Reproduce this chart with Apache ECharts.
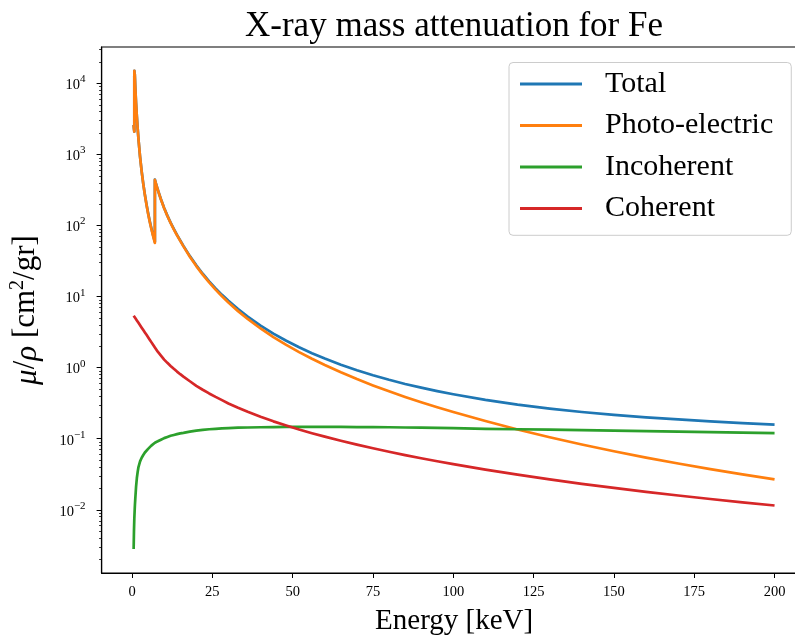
<!DOCTYPE html>
<html>
<head>
<meta charset="utf-8">
<script src="https://cdn.jsdelivr.net/npm/echarts@6/dist/echarts.min.js"></script>
<style>
html,body{margin:0;padding:0;background:#fff;}
#chart{width:795px;height:641px;}
</style>
</head>
<body>
<div id="chart"></div>
<script>
// Energy grid (keV); duplicated energies are absorption edges (L3, L2, L1, K)
const energy = [0.5, 0.6, 0.708, 0.708, 0.721, 0.721, 0.846, 0.846, 0.9, 1,
  1.25, 1.5, 1.75, 2, 2.5, 3, 3.5, 4, 4.5, 5, 5.5, 6, 6.5,
  7.112, 7.112,
  7.5, 8, 8.5, 9,
  10, 11, 12, 13, 14, 15, 16,
  18, 20, 22, 24, 26, 28, 30,
  33, 36, 40, 44, 48, 52, 56, 60,
  65, 70, 75, 80, 85, 90, 95, 100,
  110, 120, 130, 140, 150, 160, 170, 180, 190, 200];
const total = [2605, 2305, 2105, 12505, 12205, 15005, 12005, 13505, 12005, 9105,
  5305, 3435, 2334, 1654, 929, 580, 386.4, 272.2, 199.0, 149.8, 116.2, 92.4, 74.7,
  59.0, 442.0,
  382.9, 321.8, 273.7, 234.6,
  176.4, 137.9, 110.1, 89.6, 74.0, 61.9, 51.8,
  37.17, 27.59, 21.02, 16.42, 13.08, 10.60, 8.72,
  6.67, 5.23, 3.91, 3.02, 2.39, 1.94, 1.60, 1.343,
  1.101, 0.920, 0.782, 0.675, 0.590, 0.523, 0.468, 0.423,
  0.353, 0.302, 0.266, 0.238, 0.217, 0.200, 0.187, 0.176, 0.166, 0.158];
const photo = [2600, 2300, 2100, 12500, 12200, 15000, 12000, 13500, 12000, 9100,
  5300, 3430, 2330, 1650, 925, 576, 383, 269, 196, 147, 113.6, 90, 72.5,
  57, 440,
  381, 320, 272, 233,
  175, 136.6, 108.9, 88.5, 73.0, 61.0, 50.9,
  36.4, 26.9, 20.4, 15.85, 12.55, 10.11, 8.26,
  6.25, 4.85, 3.56, 2.70, 2.09, 1.657, 1.333, 1.089,
  0.860, 0.691, 0.563, 0.4646, 0.3875, 0.3264, 0.2775, 0.2377,
  0.178, 0.1351, 0.1048, 0.0829, 0.0666, 0.0543, 0.0448, 0.0374, 0.0315, 0.0268];
const incoherent = [0.0028, 0.0050, 0.0075, 0.0075, 0.0077, 0.0077, 0.0105, 0.0105, 0.0118, 0.0140,
  0.021, 0.028, 0.034, 0.040, 0.048, 0.054, 0.059, 0.064, 0.068, 0.072, 0.076, 0.080, 0.084,
  0.088, 0.088,
  0.090, 0.092, 0.095, 0.097,
  0.102, 0.106, 0.110, 0.113, 0.116, 0.119, 0.121,
  0.126, 0.130, 0.133, 0.136, 0.138, 0.140, 0.141,
  0.143, 0.144, 0.145, 0.146, 0.147, 0.147, 0.147, 0.147,
  0.147, 0.146, 0.146, 0.145, 0.144, 0.143, 0.142, 0.141,
  0.138, 0.136, 0.134, 0.132, 0.130, 0.128, 0.126, 0.124, 0.122, 0.120];
const coherent = [5.40, 5.33, 5.25, 5.25, 5.24, 5.24, 5.15, 5.15, 5.11, 5.00,
  4.81, 4.62, 4.45, 4.28, 3.96, 3.66, 3.38, 3.13, 2.90, 2.68, 2.48, 2.29, 2.12,
  1.93, 1.93,
  1.82, 1.68, 1.58, 1.48,
  1.30, 1.17, 1.058, 0.963, 0.881, 0.810, 0.748,
  0.644, 0.555, 0.489, 0.434, 0.388, 0.349, 0.314,
  0.2726, 0.2393, 0.2036, 0.1757, 0.1532, 0.1349, 0.1197, 0.107,
  0.0937, 0.0827, 0.0734, 0.0656, 0.0589, 0.0532, 0.0482, 0.0439,
  0.0368, 0.0312, 0.0268, 0.0232, 0.0203, 0.0179, 0.0159, 0.0142, 0.01275, 0.0115];

const seriesNames = ['Total', 'Photo-electric', 'Incoherent', 'Coherent'];
const seriesValues = [total, photo, incoherent, coherent];
const seriesColors = ['#1f77b4', '#ff7f0e', '#2ca02c', '#d62728'];

const xTicks = [0, 25, 50, 75, 100, 125, 150, 175, 200];
const yMajorTicks = [0.01, 0.1, 1, 10, 100, 1000, 10000];
const yMinorTicks = [0.002, 0.003, 0.004, 0.005, 0.006, 0.007, 0.008, 0.009,
  0.02, 0.03, 0.04, 0.05, 0.06, 0.07, 0.08, 0.09,
  0.2, 0.3, 0.4, 0.5, 0.6, 0.7, 0.8, 0.9,
  2, 3, 4, 5, 6, 7, 8, 9,
  20, 30, 40, 50, 60, 70, 80, 90,
  200, 300, 400, 500, 600, 700, 800, 900,
  2000, 3000, 4000, 5000, 6000, 7000, 8000, 9000,
  20000, 30000];

const FONT = 'Liberation Serif';
const xMin = -9.475, xMax = 209.975;
const yMin = 0.00129, yMax = 32580;

const chart = echarts.init(document.getElementById('chart'), null, {renderer: 'canvas'});

const series = seriesNames.map((name, k) => ({
  name: name,
  type: 'line',
  showSymbol: false,
  symbol: 'none',
  animation: false,
  lineStyle: {width: 2.7, color: seriesColors[k], cap: 'butt', join: 'round'},
  itemStyle: {color: seriesColors[k]},
  emphasis: {disabled: true},
  data: energy.map((e, i) => [e, seriesValues[k][i]])
}));

function supLabel(v) {
  const e = Math.round(Math.log10(v));
  const s = e < 0 ? '\u2212' + (-e) : String(e);
  return '{b|10}{e|' + s + '}';
}

chart.setOption({
  backgroundColor: '#ffffff',
  animation: false,
  title: {
    text: 'X-ray mass attenuation for Fe',
    left: 454,
    top: 9,
    padding: 0,
    textAlign: 'center',
    textStyle: {fontFamily: FONT, fontSize: 35, fontWeight: 'normal', color: '#000'}
  },
  legend: {
    orient: 'vertical',
    left: 509,
    top: 62.5,
    icon: 'rect',
    itemWidth: 62,
    itemHeight: 3,
    itemGap: 11.5,
    padding: [6.6, 18, 11.7, 11],
    backgroundColor: '#ffffff',
    borderColor: '#cccccc',
    borderWidth: 1,
    borderRadius: 4,
    selectedMode: false,
    textStyle: {fontFamily: FONT, fontSize: 30, color: '#000', lineHeight: 30, padding: [0, 0, 0, 18]},
    data: seriesNames
  },
  grid: {
    left: 101.6, top: 47, width: 705, height: 526,
    outerBoundsMode: 'none',
    containLabel: false,
    show: true, borderColor: '#000', borderWidth: 1.2, backgroundColor: '#fff'
  },
  xAxis: {
    type: 'value',
    min: xMin, max: xMax,
    name: 'Energy [keV]',
    nameLocation: 'middle',
    nameGap: 34,
    nameTextStyle: {fontFamily: FONT, fontSize: 29, color: '#000'},
    axisLine: {show: true, onZero: false, lineStyle: {color: '#000', width: 1.2}},
    axisTick: {show: true, inside: false, length: 5, customValues: xTicks, lineStyle: {color: '#000', width: 1}},
    axisLabel: {customValues: xTicks, margin: 12, fontFamily: FONT, fontSize: 14.5, color: '#000'},
    splitLine: {show: false}
  },
  yAxis: [{
    type: 'log',
    logBase: 10,
    min: yMin, max: yMax,
    name: '{i|\u03bc}/{i|\u03c1} [cm{s|2}/gr]',
    nameLocation: 'middle',
    nameRotate: 90,
    nameGap: 58,
    nameTextStyle: {
      fontFamily: FONT, fontSize: 31, color: '#000',
      rich: {
        i: {fontFamily: FONT, fontSize: 31, fontStyle: 'italic', color: '#000', lineHeight: 36, verticalAlign: 'bottom'},
        s: {fontFamily: FONT, fontSize: 20, color: '#000', lineHeight: 20, verticalAlign: 'top'}
      }
    },
    axisLine: {show: true, onZero: false, lineStyle: {color: '#000', width: 1.2}},
    axisTick: {show: true, inside: false, length: 5, customValues: yMajorTicks, lineStyle: {color: '#000', width: 1}},
    axisLabel: {
      customValues: yMajorTicks,
      margin: 16,
      formatter: supLabel,
      rich: {
        b: {fontFamily: FONT, fontSize: 14.5, color: '#000', lineHeight: 19, verticalAlign: 'bottom'},
        e: {fontFamily: FONT, fontSize: 11, color: '#000', lineHeight: 11, verticalAlign: 'top'}
      }
    },
    splitLine: {show: false},
    minorTick: {show: false}
  }, {
    type: 'log',
    logBase: 10,
    min: yMin, max: yMax,
    position: 'left',
    axisLine: {show: false, onZero: false},
    axisTick: {show: true, inside: false, length: 2.5, customValues: yMinorTicks, lineStyle: {color: '#000', width: 0.8}},
    axisLabel: {show: false},
    splitLine: {show: false}
  }],
  series: series
});
</script>
</body>
</html>
